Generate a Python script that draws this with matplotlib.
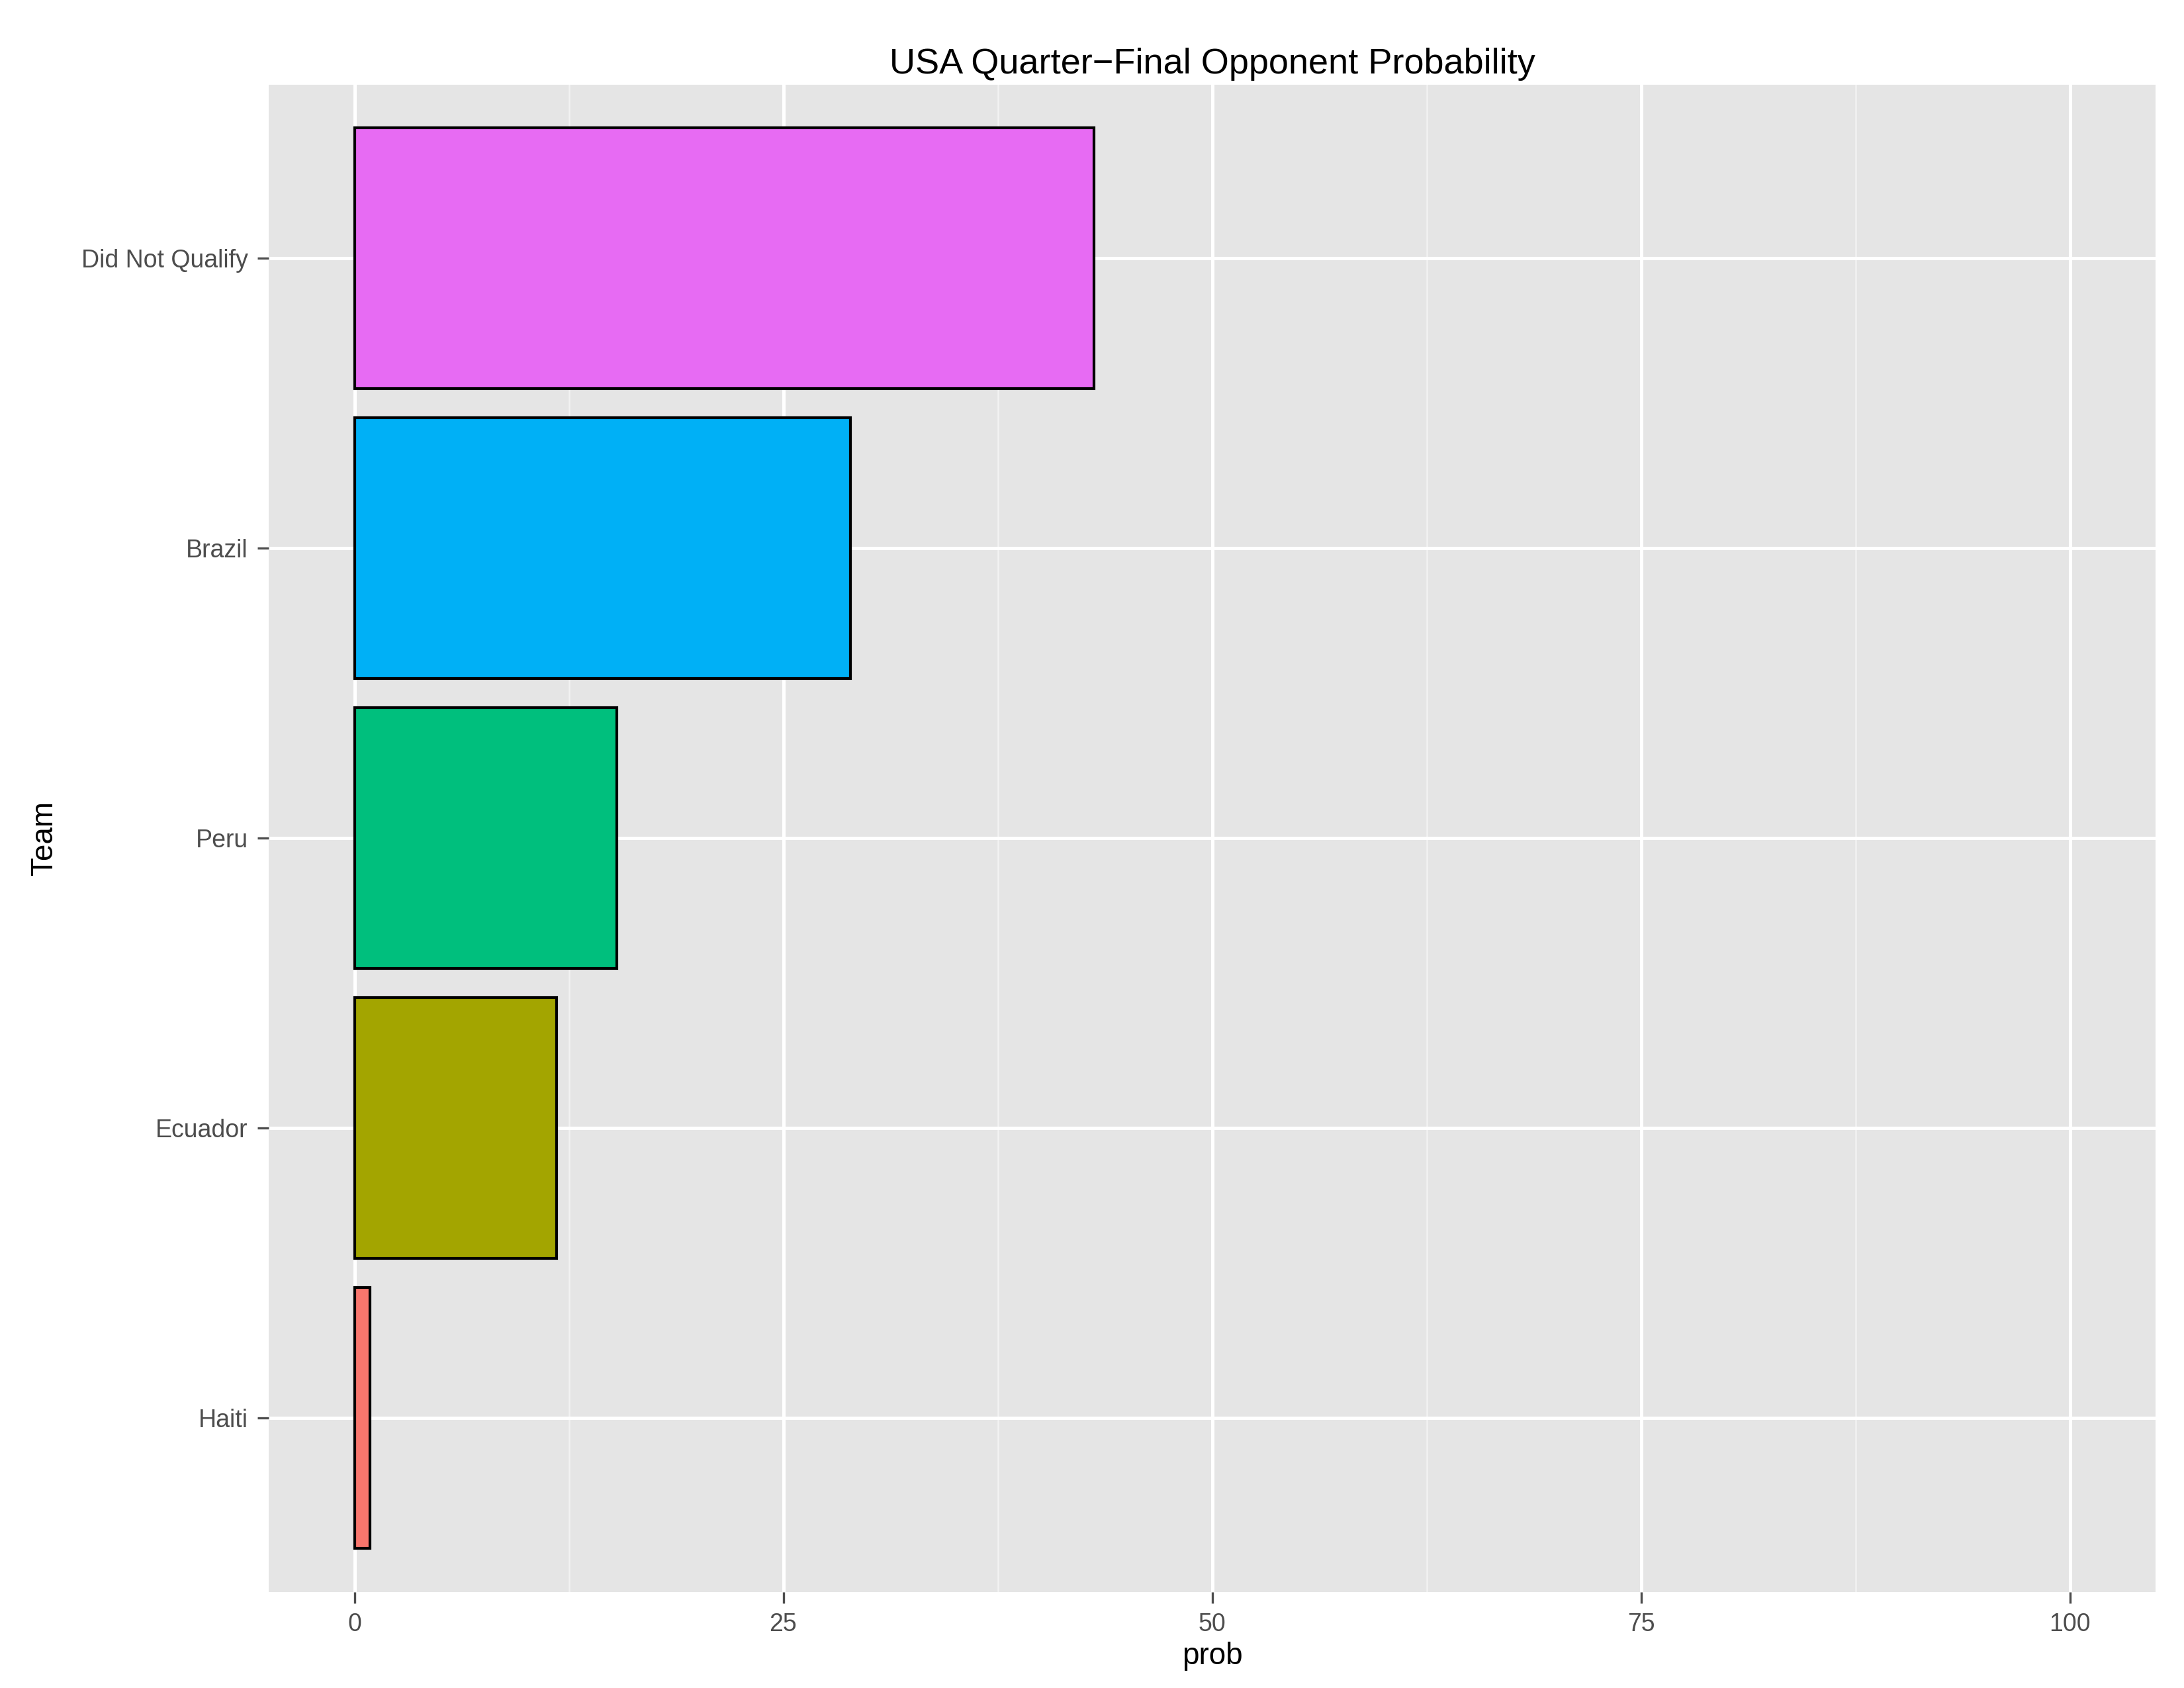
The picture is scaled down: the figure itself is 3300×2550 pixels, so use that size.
import matplotlib.pyplot as plt

teams = ['Haiti', 'Ecuador', 'Peru', 'Brazil', 'Did Not Qualify']
probs = [0.9, 11.8, 15.3, 28.9, 43.1]
colors = ['#F8766D', '#A3A500', '#00BF7D', '#00B0F6', '#E76BF3']

plt.rcParams['font.family'] = ['Liberation Sans', 'DejaVu Sans']

fig = plt.figure(figsize=(11, 8.5), dpi=300)
ax = fig.add_axes([0.123, 0.057, 0.864, 0.893])
ax.set_facecolor('#E5E5E5')

y = range(1, len(teams) + 1)
ax.barh(y, probs, height=0.9, color=colors, edgecolor='black', linewidth=1.0, zorder=3)

ax.set_xlim(-5, 105)
ax.set_ylim(0.4, 5.6)
ax.set_xticks([0, 25, 50, 75, 100])
ax.set_xticks([12.5, 37.5, 62.5, 87.5], minor=True)
ax.set_yticks(list(y))
ax.set_yticklabels(teams)
ax.grid(True, which='major', color='white', linewidth=1.2, zorder=0)
ax.grid(True, which='minor', axis='x', color='#F2F2F2', linewidth=0.6, zorder=0)
ax.tick_params(which='minor', length=0)
ax.tick_params(which='major', length=4, color='#4D4D4D', labelcolor='#4D4D4D', labelsize=9)
for s in ax.spines.values():
    s.set_visible(False)

ax.set_xlabel('prob', fontsize=11, labelpad=2)
ax.set_ylabel('Team', fontsize=11, labelpad=8)
ax.set_title('USA Quarter\u2212Final Opponent Probability', fontsize=13, pad=4)

fig.savefig('out.png', dpi=300)
